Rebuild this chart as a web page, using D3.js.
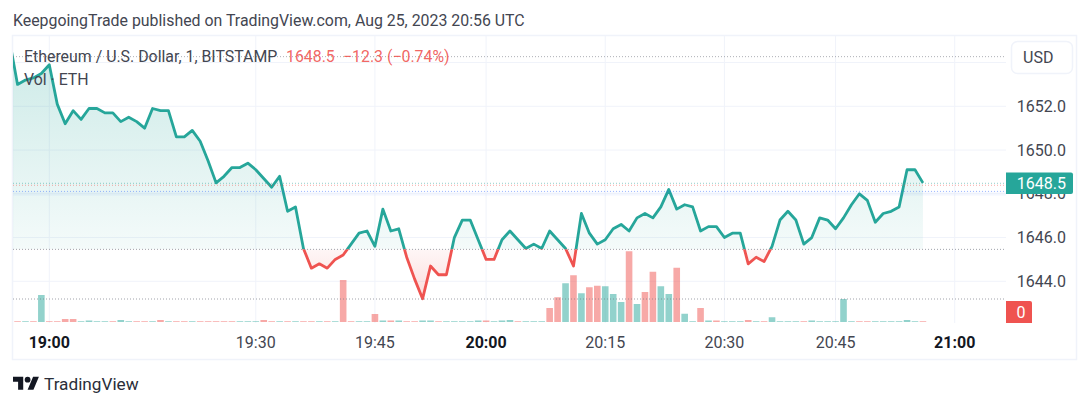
<!DOCTYPE html>
<html>
<head>
<meta charset="utf-8">
<script src="https://d3js.org/d3.v7.min.js"></script>
<style>
html,body{margin:0;padding:0;background:#fff}
svg{display:block}
text{font-family:Roboto,sans-serif}
</style>
</head>
<body>
<svg id="chart" width="1090" height="407"></svg>
<script>
// one-minute bars, the first one sits just off the left edge of the pane
var firstBar = -5
var closes = [1655.0,1653.0,1653.2,1653.3,1653.5,1653.9,1652.1,1651.2,1651.8,1651.4,
  1651.9,1651.9,1651.7,1651.7,1651.3,1651.5,1651.3,1651.0,1651.9,1651.8,
  1651.8,1650.6,1650.6,1650.9,1650.4,1649.5,1648.5,1648.8,1649.2,1649.2,
  1649.4,1649.1,1648.7,1648.3,1648.8,1647.2,1647.4,1645.5,1644.6,1644.8,
  1644.6,1645.0,1645.2,1645.7,1646.2,1646.3,1645.6,1647.3,1646.3,1646.4,
  1645.1,1644.1,1643.2,1644.7,1644.3,1644.3,1646.0,1646.8,1646.8,1645.9,
  1645.0,1645.0,1645.9,1646.3,1645.9,1645.5,1645.7,1645.5,1646.3,1645.9,
  1645.5,1644.7,1647.1,1646.2,1645.7,1645.9,1646.4,1646.6,1646.3,1646.9,
  1647.1,1646.9,1647.4,1648.2,1647.3,1647.5,1647.4,1646.3,1646.5,1646.5,
  1646.0,1646.2,1646.2,1644.8,1645.1,1644.9,1645.6,1646.8,1647.2,1646.8,
  1645.7,1646.0,1646.9,1646.8,1646.4,1646.9,1647.5,1648.0,1647.7,1646.7,
  1647.1,1647.2,1647.4,1649.1,1649.1,1648.5]
var volumes = [3,3,3,3,108,3,3,12,12,3,6,3,3,3,8,3,3,3,3,8,
  3,3,3,3,3,3,3,3,3,3,3,3,8,3,3,3,3,3,3,3,
  3,3,168,3,3,3,32,6,6,6,3,3,6,6,3,3,3,3,3,6,
  6,3,6,8,3,3,3,3,56,99,155,187,115,139,145,143,112,80,283,72,
  120,201,143,112,217,33,3,56,6,6,3,3,3,8,3,3,19,3,3,3,
  3,6,3,3,3,92,3,3,3,3,3,3,3,8,3,3]
var upBars = [0,0,1,0,1,0,0,0,0,1,1,1,1,0,1,1,0,0,1,0,
  1,0,0,1,0,0,0,0,0,1,1,1,0,0,1,0,1,0,0,1,
  0,1,0,0,1,1,0,1,0,1,0,0,1,1,0,1,1,1,1,1,
  0,1,1,1,0,1,1,1,0,0,1,0,1,0,0,1,1,1,0,1,
  0,0,1,1,0,1,1,0,1,0,1,1,1,0,1,0,1,1,1,1,
  0,1,1,1,1,1,1,0,0,1,1,1,1,1,1,0]
var baseValue = 1645.46
var highValue = 1654.27
var lastValue = 1648.5
var priceTicks = [1652, 1650, 1648, 1646, 1644]
var timeIndex = [0, 26, 41, 55, 70, 85, 99, 114]
var timeLabels = ["19:00", "19:30", "19:45", "20:00", "20:15", "20:30", "20:45", "21:00"]
var timeBold = ["19:00", "20:00", "21:00"]

var teal = "#26a69a", red = "#ef5350", blue = "#2962ff", grid = "#f0f3fa", dots = "#787b86"
var paneL = 13, paneR = 1006, paneT = 36, paneB = 323

var svg = d3.select("#chart")
var x = d3.scaleLinear().domain([0, 114]).range([49.3, 954.7])
var y = d3.scaleLinear().domain([1644, 1652]).range([281.3, 106.3])
var v = d3.scaleLinear().domain([0, 400]).range([322, 222])

var bars = closes.map(function(c, i) {
  return {i: firstBar + i, close: c, vol: volumes[i], up: upBars[i]}
})

// frame
svg.append("rect").attr("x", 12.5).attr("y", 35.5).attr("width", 1064).attr("height", 324)
  .attr("fill", "none").attr("stroke", grid).attr("stroke-width", 1.5)

// grid
svg.selectAll(".gy").data([1654].concat(priceTicks)).enter().append("line")
  .attr("x1", paneL).attr("x2", paneR).attr("y1", y).attr("y2", y)
  .attr("stroke", grid).attr("stroke-width", 1)
svg.selectAll(".gx").data(timeIndex).enter().append("line")
  .attr("x1", x).attr("x2", x).attr("y1", paneT).attr("y2", paneB)
  .attr("stroke", grid).attr("stroke-width", 1)

// clips
var defs = svg.append("defs")
defs.append("clipPath").attr("id", "pane").append("rect")
  .attr("x", paneL).attr("y", paneT).attr("width", paneR - paneL).attr("height", paneB - paneT)
defs.append("clipPath").attr("id", "above").append("rect")
  .attr("x", paneL).attr("y", paneT).attr("width", paneR - paneL).attr("height", y(baseValue) - paneT)
defs.append("clipPath").attr("id", "below").append("rect")
  .attr("x", paneL).attr("y", y(baseValue)).attr("width", paneR - paneL).attr("height", paneB - y(baseValue))

var gradUp = defs.append("linearGradient").attr("id", "gradUp").attr("gradientUnits", "userSpaceOnUse")
  .attr("x1", 0).attr("x2", 0).attr("y1", y(1654)).attr("y2", y(baseValue))
gradUp.append("stop").attr("offset", 0).attr("stop-color", teal).attr("stop-opacity", 0.22)
gradUp.append("stop").attr("offset", 1).attr("stop-color", teal).attr("stop-opacity", 0.05)
var gradDown = defs.append("linearGradient").attr("id", "gradDown").attr("gradientUnits", "userSpaceOnUse")
  .attr("x1", 0).attr("x2", 0).attr("y1", y(baseValue)).attr("y2", y(1643))
gradDown.append("stop").attr("offset", 0).attr("stop-color", red).attr("stop-opacity", 0.05)
gradDown.append("stop").attr("offset", 1).attr("stop-color", red).attr("stop-opacity", 0.22)

// volume
svg.append("g").attr("clip-path", "url(#pane)").selectAll("rect").data(bars).enter().append("rect")
  .attr("x", function(d) { return x(d.i) - 3.3 })
  .attr("width", 6.6)
  .attr("y", function(d) { return v(d.vol) })
  .attr("height", function(d) { return v(0) - v(d.vol) })
  .attr("fill", function(d) { return d.up ? teal : red })
  .attr("fill-opacity", 0.5)

// baseline area and line
var area = d3.area().x(function(d) { return x(d.i) }).y0(y(baseValue)).y1(function(d) { return y(d.close) })
var line = d3.line().x(function(d) { return x(d.i) }).y(function(d) { return y(d.close) })
var clipped = svg.append("g").attr("clip-path", "url(#pane)")
clipped.append("g").attr("clip-path", "url(#above)").append("path").datum(bars)
  .attr("d", area).attr("fill", "url(#gradUp)")
clipped.append("g").attr("clip-path", "url(#below)").append("path").datum(bars)
  .attr("d", area).attr("fill", "url(#gradDown)")

// dotted price lines
var levels = [
  {p: highValue, c: dots, o: 0.6},
  {p: lastValue - 0.02, c: teal, o: 0.5},
  {p: lastValue - 0.11, c: red, o: 0.5},
  {p: lastValue - 0.39, c: blue, o: 0.45},
  {p: baseValue, c: dots, o: 0.7}
]
svg.append("rect").attr("x", paneL).attr("width", paneR - paneL)
  .attr("y", y(lastValue - 0.39)).attr("height", 4.5).attr("fill", blue).attr("fill-opacity", 0.03)
svg.selectAll(".lvl").data(levels).enter().append("line")
  .attr("x1", paneL).attr("x2", paneR)
  .attr("y1", function(d) { return y(d.p) }).attr("y2", function(d) { return y(d.p) })
  .attr("stroke", function(d) { return d.c }).attr("stroke-opacity", function(d) { return d.o })
  .attr("stroke-width", 1).attr("stroke-dasharray", "1 2")
svg.append("line").attr("x1", paneL).attr("x2", paneR).attr("y1", v(92)).attr("y2", v(92))
  .attr("stroke", dots).attr("stroke-opacity", 0.7).attr("stroke-width", 1).attr("stroke-dasharray", "1 2")

clipped.append("g").attr("clip-path", "url(#above)").append("path").datum(bars)
  .attr("d", line).attr("fill", "none").attr("stroke", teal).attr("stroke-width", 2.8).attr("stroke-linejoin", "round")
clipped.append("g").attr("clip-path", "url(#below)").append("path").datum(bars)
  .attr("d", line).attr("fill", "none").attr("stroke", red).attr("stroke-width", 2.8).attr("stroke-linejoin", "round")

// header and legend
svg.append("text").attr("x", 13).attr("y", 26).text("KeepgoingTrade published on TradingView.com, Aug 25, 2023 20:56 UTC")
  .style("font-size", "15.88px").attr("fill", "#434651")
svg.append("text").attr("x", 24).attr("y", 61.5).text("Ethereum / U.S. Dollar, 1, BITSTAMP")
  .style("font-size", "15.88px").attr("fill", "#434651")
svg.append("text").attr("x", 286).attr("y", 61.5).text("1648.5")
  .style("font-size", "15.88px").attr("fill", red).attr("fill-opacity", 0.9)
svg.append("text").attr("x", 343).attr("y", 61.5).text("\u221212.3 (\u22120.74%)")
  .style("font-size", "15.88px").attr("fill", red).attr("fill-opacity", 0.9)
svg.append("text").attr("x", 24).attr("y", 84.5).text("Vol \u00b7 ETH")
  .style("font-size", "15.88px").attr("fill", "#434651")

// price axis
svg.selectAll(".py").data(priceTicks).enter().append("text")
  .attr("x", 1066).attr("y", function(d) { return y(d) + 5.5 })
  .attr("text-anchor", "end").style("font-size", "16px").attr("fill", "#434651")
  .text(function(d) { return d.toFixed(1) })

svg.append("rect").attr("x", 1011.5).attr("y", 41.5).attr("width", 61).attr("height", 32).attr("rx", 6)
  .attr("fill", "#fff").attr("stroke", grid).attr("stroke-width", 1.5)
svg.append("text").attr("x", 1023).attr("y", 63).text("USD").style("font-size", "16px").attr("fill", "#434651")

// last value labels
svg.append("path").attr("fill", teal)
  .attr("d", "M1006 172.5H1071a2 2 0 0 1 2 2V192a2 2 0 0 1 -2 2H1006Z")
svg.append("text").attr("x", 1066).attr("y", y(lastValue) + 6).attr("text-anchor", "end").text(lastValue.toFixed(1))
  .style("font-size", "16px").attr("fill", "#fff")
svg.append("path").attr("fill", red)
  .attr("d", "M1006 301H1030a2 2 0 0 1 2 2V323H1006Z")
svg.append("text").attr("x", 1021).attr("y", 318).attr("text-anchor", "middle").text("0")
  .style("font-size", "16px").attr("fill", "#fff")

// time axis
svg.selectAll(".tx").data(timeIndex).enter().append("text")
  .attr("x", x).attr("y", 347.5).attr("text-anchor", "middle").style("font-size", "16px")
  .style("font-weight", function(d, i) { return timeBold.indexOf(timeLabels[i]) >= 0 ? 700 : 400 })
  .attr("fill", function(d, i) { return timeBold.indexOf(timeLabels[i]) >= 0 ? "#131722" : "#434651" })
  .text(function(d, i) { return timeLabels[i] })

// logo
var logo = svg.append("g").attr("transform", "translate(13,373.8) scale(0.73)").attr("fill", "#131722")
logo.append("path").attr("d", "M14 22H7V11H0V4h14v18zM28 22h-8l7.5-18h8L28 22z")
logo.append("circle").attr("cx", 20).attr("cy", 8).attr("r", 4)
svg.append("text").attr("x", 44).attr("y", 390).text("TradingView").style("font-size", "17.2px").attr("fill", "#2a2e39")
</script>
</body>
</html>
